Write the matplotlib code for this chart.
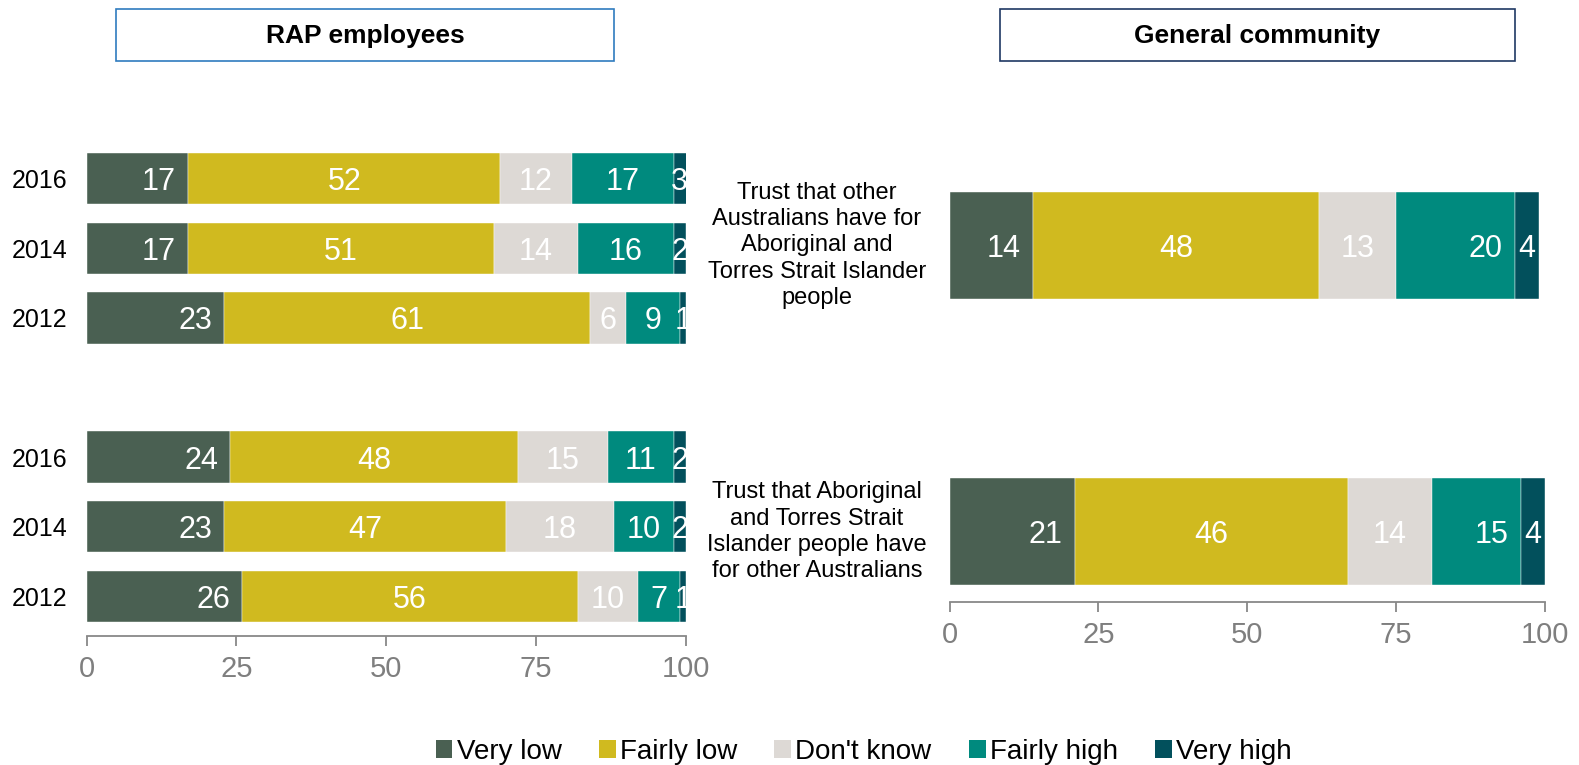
import matplotlib.pyplot as plt
from matplotlib.patches import Rectangle, Patch

plt.rcParams['font.family'] = ['Liberation Sans', 'DejaVu Sans']

# Response categories and colours
categories = ["Very low", "Fairly low", "Don't know", "Fairly high", "Very high"]
colors = ["#4a6052", "#d0ba1f", "#ddd9d5", "#008a7e", "#02505c"]

# RAP employees: two questions, three survey years each
rap_years = ["2016", "2014", "2012", "2016", "2014", "2012"]
rap_very_low = [17, 17, 23, 24, 23, 26]
rap_fairly_low = [52, 51, 61, 48, 47, 56]
rap_dont_know = [12, 14, 6, 15, 18, 10]
rap_fairly_high = [17, 16, 9, 11, 10, 7]
rap_very_high = [3, 2, 1, 2, 2, 1]
rap_pos = [0, 1, 2, 4, 5, 6]

# General community
gen_questions = [
    "Trust that other\nAustralians have for\nAboriginal and\nTorres Strait Islander\npeople",
    "Trust that Aboriginal\nand Torres Strait\nIslander people have\nfor other Australians",
]
gen_very_low = [14, 21]
gen_fairly_low = [48, 46]
gen_dont_know = [13, 14]
gen_fairly_high = [20, 15]
gen_very_high = [4, 4]
gen_pos = [0, 1]

W, H = 1579, 765
fig = plt.figure(figsize=(W / 100, H / 100), dpi=100)


def px_axes(x0, y_top, x1, y_bot):
    return fig.add_axes([x0 / W, 1 - y_bot / H, (x1 - x0) / W, (y_bot - y_top) / H])


def draw_stack(ax, pos, series, height, end_labels):
    left = [0] * len(pos)
    for k, vals in enumerate(series):
        ax.barh(pos, vals, left=left, height=height, color=colors[k],
                edgecolor="white", linewidth=0.3)
        for i, v in enumerate(vals):
            right = min(left[i] + v, 100)
            if k in end_labels:
                ax.annotate(str(v), (right, pos[i]), xytext=(-9, 0),
                            textcoords="offset points", ha="right",
                            va="center_baseline", color="white", fontsize=22)
            else:
                ax.text((left[i] + right) / 2, pos[i], str(v), ha="center",
                        va="center_baseline", color="white", fontsize=22)
        left = [a + b for a, b in zip(left, vals)]


def style_axis(ax):
    ax.set_xlim(0, 100)
    ax.set_xticks([0, 25, 50, 75, 100])
    for s in ["top", "right", "left"]:
        ax.spines[s].set_visible(False)
    ax.spines["bottom"].set_color("#888888")
    ax.spines["bottom"].set_linewidth(1.3)
    ax.tick_params(axis="x", colors="#888888", labelsize=21, length=7,
                   width=1.3, pad=7)
    ax.tick_params(axis="x", labelcolor="#7f7f7f")


# Left panel
ax1 = px_axes(86.6, 137, 685.8, 636)
draw_stack(ax1, rap_pos,
           [rap_very_low, rap_fairly_low, rap_dont_know, rap_fairly_high, rap_very_high],
           0.74, end_labels={0})
ax1.set_ylim(6.571, -0.6)
ax1.set_yticks(rap_pos)
ax1.set_yticklabels(rap_years, fontsize=18)
ax1.tick_params(axis="y", length=0, pad=14)
style_axis(ax1)

# Right panel
ax2 = px_axes(949.6, 131, 1544.8, 602)
draw_stack(ax2, gen_pos,
           [gen_very_low, gen_fairly_low, gen_dont_know, gen_fairly_high, gen_very_high],
           0.373, end_labels={0, 3})
ax2.set_ylim(1.246, -0.4)
ax2.set_yticks([])
style_axis(ax2)
for q, p in zip(gen_questions, gen_pos):
    ax2.text(-0.223, p, q, transform=ax2.get_yaxis_transform(), ha="center",
             va="center", multialignment="center", fontsize=17,
             linespacing=1.24)

# Panel headers
for (x0, x1, edge, title) in [(115.8, 614, "#2f7bbf", "RAP employees"),
                              (1000, 1514.6, "#1f3864", "General community")]:
    fig.patches.append(Rectangle((x0 / W, 1 - 61.4 / H), (x1 - x0) / W, 52.4 / H,
                                 transform=fig.transFigure, fill=False,
                                 edgecolor=edge, linewidth=1.2))
    fig.text((x0 + x1) / 2 / W, 1 - 35.5 / H, title, ha="center", va="center",
             fontsize=19, fontweight="bold")

handles = [Patch(facecolor=c, label=l) for c, l in zip(colors, categories)]
fig.legend(handles=handles, loc="center", bbox_to_anchor=(0.547, 0.017), ncol=5,
           frameon=False, fontsize=20, handlelength=0.6, handleheight=0.6,
           handletextpad=0.15, columnspacing=1.35)

fig.savefig("out.png", dpi=100)
